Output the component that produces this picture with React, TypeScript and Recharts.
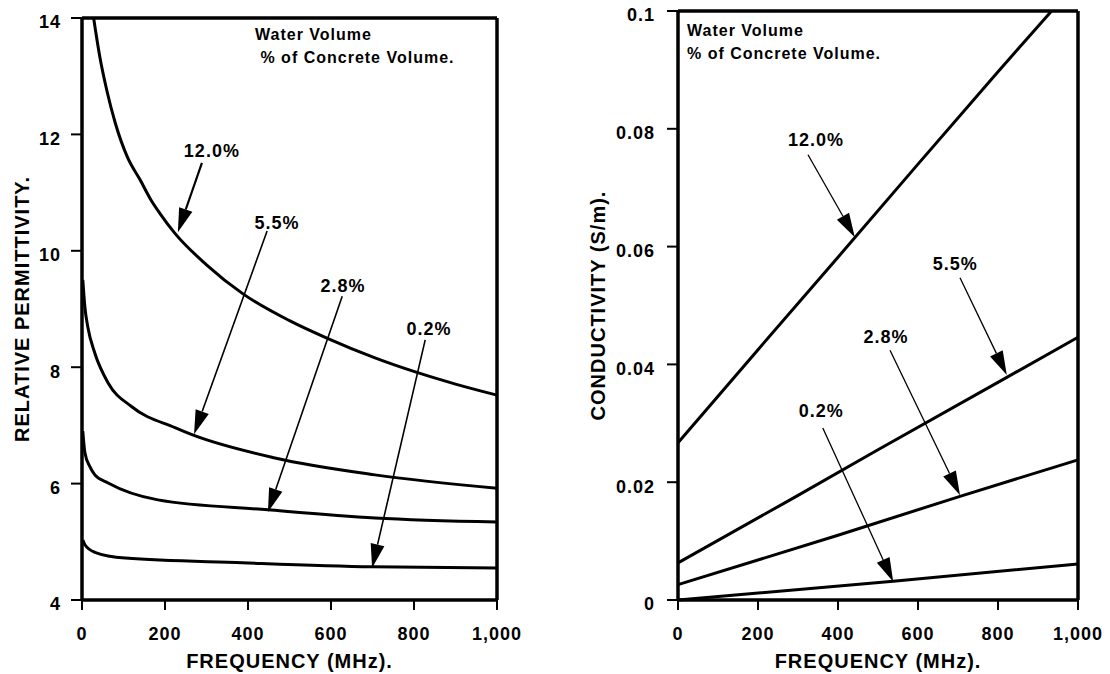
import React from "react";
import { LineChart, Line, XAxis, YAxis, ReferenceLine, ReferenceDot } from "recharts";

// shared x axis (frequency, MHz)
const freqTicks = [0, 200, 400, 600, 800, 1000];
const permTicks = [4, 6, 8, 10, 12, 14];
const condTicks = [0, 0.02, 0.04, 0.06, 0.08, 0.1];

// relative permittivity, [MHz, value]
const perm120: number[][] = [
  [28, 14.0], [43, 13.33], [60, 12.75], [80, 12.2], [110, 11.6], [140, 11.22], [164, 10.9],
  [188, 10.64], [224, 10.3], [300, 9.76], [388, 9.26], [500, 8.8], [590, 8.5], [706, 8.16],
  [807, 7.91], [900, 7.71], [1000, 7.52],
];
const perm55: number[][] = [
  [2, 9.5], [7, 9.03], [14, 8.69], [31, 8.24], [63, 7.73], [120, 7.32], [224, 6.96],
  [265, 6.84], [465, 6.44], [706, 6.15], [1000, 5.92],
];
const perm28: number[][] = [
  [2, 6.9], [7, 6.53], [19, 6.29], [31, 6.15], [63, 6.01], [183, 5.72], [448, 5.55],
  [706, 5.41], [1000, 5.34],
];
const perm02: number[][] = [
  [2, 5.03], [7, 4.95], [31, 4.82], [104, 4.72], [386, 4.64], [700, 4.57], [1000, 4.55],
];

// conductivity (S/m), [MHz, value]
const cond120: number[][] = [[0, 0.0267], [200, 0.0425], [400, 0.0582], [600, 0.074], [800, 0.0897], [934, 0.1]];
const cond55: number[][] = [[0, 0.0063], [288, 0.0173], [500, 0.0255], [822, 0.0378], [1000, 0.0446]];
const cond28: number[][] = [[0, 0.0026], [400, 0.011], [705, 0.0176], [1000, 0.0238]];
const cond02: number[][] = [[0, 0.0], [538, 0.0032], [1000, 0.0061]];

// arrow annotations: label, label point, arrow start, arrow tip
const permNotes = [
  { text: "12.0%", at: [313, 11.73], from: [289, 11.51], to: [231, 10.32] },
  { text: "5.5%", at: [470, 10.49], from: [446, 10.34], to: [270, 6.85] },
  { text: "2.8%", at: [629, 9.41], from: [627, 9.22], to: [448, 5.51] },
  { text: "0.2%", at: [836, 8.66], from: [827, 8.47], to: [699, 4.55] },
];
const condNotes = [
  { text: "12.0%", at: [345, 0.0781], from: [325, 0.0756], to: [442, 0.0616] },
  { text: "5.5%", at: [693, 0.0572], from: [705, 0.0547], to: [822, 0.0382] },
  { text: "2.8%", at: [520, 0.0448], from: [530, 0.0424], to: [705, 0.0178] },
  { text: "0.2%", at: [358, 0.0321], from: [362, 0.0292], to: [538, 0.0031] },
];

const font = '"Liberation Sans", Arial, Helvetica, sans-serif';
const tickStyle = { fontFamily: font, fontWeight: 700, fontSize: 18, fill: "#000", letterSpacing: 1 };
const titleStyle = { fontFamily: font, fontWeight: 700, fontSize: 20, fill: "#000", letterSpacing: 1, textAnchor: "middle" as const };

const toPts = (arr: number[][]) => arr.map(([f, v]) => ({ f, v }));

const arrowShape = (w: number) => (props: any) => {
  const { x1, y1, x2, y2 } = props;
  const dx = x2 - x1;
  const dy = y2 - y1;
  const len = Math.hypot(dx, dy) || 1;
  const ux = dx / len;
  const uy = dy / len;
  const hl = 24;
  const hw = 7;
  const bx = x2 - ux * hl;
  const by = y2 - uy * hl;
  const pts = `${x2},${y2} ${bx - uy * hw},${by + ux * hw} ${bx + uy * hw},${by - ux * hw}`;
  return (
    <g>
      <line x1={x1} y1={y1} x2={bx} y2={by} stroke="#000" strokeWidth={w} />
      <polygon points={pts} fill="#000" />
    </g>
  );
};

const noteText = (text: string) => (props: any) => (
  <text x={props.cx} y={props.cy} dy="0.36em" textAnchor="middle" style={tickStyle}>
    {text}
  </text>
);

const fmtFreq = (v: number) => v.toLocaleString("en-US");

const legendStyle: React.CSSProperties = {
  position: "absolute",
  fontFamily: font,
  fontWeight: 700,
  fontSize: 16,
  letterSpacing: 1,
  lineHeight: "23px",
  whiteSpace: "pre",
  color: "#000",
};

export default function App() {
  return (
    <div style={{ position: "absolute", left: 0, top: 0, width: 1110, height: 674, background: "#fff" }}>
      <div style={{ position: "absolute", left: 0, top: 0 }}>
        <LineChart width={545} height={674} margin={{ top: 18, right: 48, bottom: 0, left: 0 }}>
          <XAxis
            type="number"
            dataKey="f"
            domain={[0, 1000]}
            ticks={freqTicks}
            tickFormatter={fmtFreq}
            height={74}
            tick={tickStyle}
            tickSize={10}
            tickMargin={17}
            axisLine={{ stroke: "#000", strokeWidth: 3.5 }}
            tickLine={{ stroke: "#000", strokeWidth: 2 }}
            label={{ value: "FREQUENCY (MHz).", position: "insideBottom", offset: 6, style: titleStyle }}
          />
          <YAxis
            type="number"
            domain={[4, 14]}
            ticks={permTicks}
            width={82}
            tick={{ ...tickStyle, dy: 4 }}
            tickSize={11}
            tickMargin={10}
            axisLine={{ stroke: "#000", strokeWidth: 3.5 }}
            tickLine={{ stroke: "#000", strokeWidth: 2 }}
            label={{ value: "RELATIVE PERMITTIVITY.", angle: -90, position: "insideLeft", offset: 22, style: titleStyle }}
          />
          <ReferenceLine y={14} stroke="#000" strokeWidth={3.5} />
          <ReferenceLine x={1000} stroke="#000" strokeWidth={3.5} />
          {[perm120, perm55, perm28, perm02].map((s, i) => (
            <Line
              key={`p${i}`}
              data={toPts(s)}
              dataKey="v"
              type="monotone"
              stroke="#000"
              strokeWidth={3}
              dot={false}
              isAnimationActive={false}
            />
          ))}
          {permNotes.map((n, i) => (
            <ReferenceLine
              key={`pa${i}`}
              segment={[{ x: n.from[0], y: n.from[1] }, { x: n.to[0], y: n.to[1] }]}
              shape={arrowShape(i === 0 ? 2.2 : 1.6)}
            />
          ))}
          {permNotes.map((n, i) => (
            <ReferenceDot key={`pt${i}`} x={n.at[0]} y={n.at[1]} r={0} shape={noteText(n.text)} />
          ))}
        </LineChart>
        <div style={{ ...legendStyle, left: 255, top: 23 }}>{"Water Volume\n % of Concrete Volume."}</div>
      </div>

      <div style={{ position: "absolute", left: 560, top: 0 }}>
        <LineChart width={550} height={674} margin={{ top: 11, right: 32, bottom: 0, left: 0 }}>
          <XAxis
            type="number"
            dataKey="f"
            domain={[0, 1000]}
            ticks={freqTicks}
            tickFormatter={fmtFreq}
            height={74}
            tick={tickStyle}
            tickSize={10}
            tickMargin={17}
            axisLine={{ stroke: "#000", strokeWidth: 3.5 }}
            tickLine={{ stroke: "#000", strokeWidth: 2 }}
            label={{ value: "FREQUENCY (MHz).", position: "insideBottom", offset: 6, style: titleStyle }}
          />
          <YAxis
            type="number"
            domain={[0, 0.1]}
            ticks={condTicks}
            width={118}
            tick={{ ...tickStyle, dy: 4 }}
            tickSize={11}
            tickMargin={12}
            axisLine={{ stroke: "#000", strokeWidth: 3.5 }}
            tickLine={{ stroke: "#000", strokeWidth: 2 }}
            label={{ value: "CONDUCTIVITY (S/m).", angle: -90, position: "insideLeft", offset: 38, style: titleStyle }}
          />
          <ReferenceLine y={0.1} stroke="#000" strokeWidth={3.5} />
          <ReferenceLine x={1000} stroke="#000" strokeWidth={3.5} />
          {[cond120, cond55, cond28, cond02].map((s, i) => (
            <Line
              key={`c${i}`}
              data={toPts(s)}
              dataKey="v"
              type="linear"
              stroke="#000"
              strokeWidth={3}
              dot={false}
              isAnimationActive={false}
            />
          ))}
          {condNotes.map((n, i) => (
            <ReferenceLine
              key={`ca${i}`}
              segment={[{ x: n.from[0], y: n.from[1] }, { x: n.to[0], y: n.to[1] }]}
              shape={arrowShape(1.3)}
            />
          ))}
          {condNotes.map((n, i) => (
            <ReferenceDot key={`ct${i}`} x={n.at[0]} y={n.at[1]} r={0} shape={noteText(n.text)} />
          ))}
        </LineChart>
        <div style={{ ...legendStyle, left: 127, top: 19 }}>{"Water Volume\n% of Concrete Volume."}</div>
      </div>
    </div>
  );
}
